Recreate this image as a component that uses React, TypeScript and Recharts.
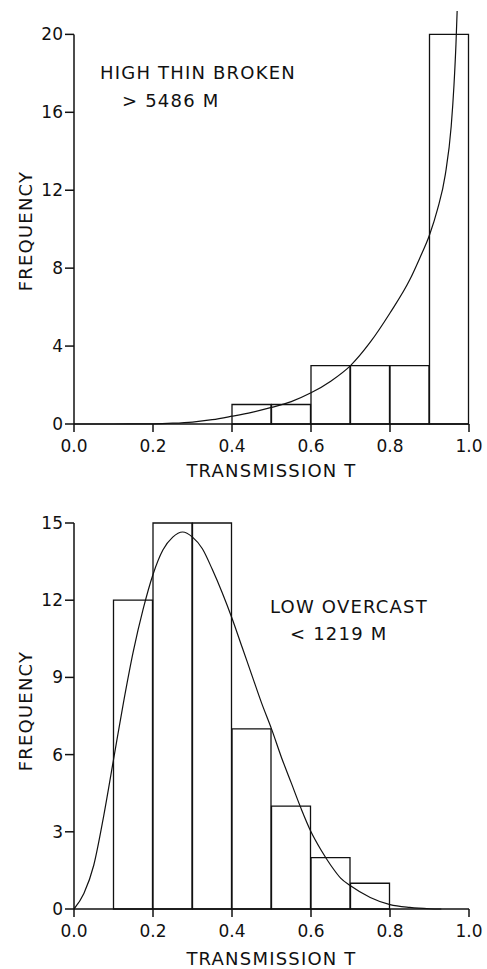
import React from "react";
import { Bar, ComposedChart, Line, ReferenceLine, XAxis, YAxis } from "recharts";

// histogram bins (lower edges) and observed counts
const binStarts = [0.0, 0.1, 0.2, 0.3, 0.4, 0.5, 0.6, 0.7, 0.8, 0.9];
const highThinCounts = [0, 0, 0, 0, 1, 1, 3, 3, 3, 20];
const lowOvercastCounts = [0, 12, 15, 15, 7, 4, 2, 1, 0, 0];

// fitted curves
const highThinCurveT = [0.0, 0.1, 0.2, 0.25, 0.3, 0.35, 0.4, 0.45, 0.5, 0.55, 0.6, 0.65, 0.7, 0.75, 0.8, 0.85, 0.875, 0.9, 0.92, 0.94, 0.955, 0.962, 0.967, 0.97];
const highThinCurveF = [0, 0, 0.01, 0.04, 0.1, 0.22, 0.4, 0.6, 0.85, 1.15, 1.6, 2.2, 3.0, 4.2, 5.7, 7.4, 8.5, 9.7, 11.0, 12.8, 15.3, 17.4, 19.5, 21.2];
const lowOvercastCurveT = [0.0, 0.025, 0.05, 0.075, 0.1, 0.125, 0.15, 0.175, 0.2, 0.225, 0.25, 0.275, 0.3, 0.325, 0.35, 0.375, 0.4, 0.425, 0.45, 0.475, 0.5, 0.525, 0.55, 0.575, 0.6, 0.625, 0.65, 0.675, 0.7, 0.75, 0.8, 0.85, 0.9, 0.93];
const lowOvercastCurveF = [0, 0.6, 1.7, 3.6, 5.8, 8.0, 10.0, 11.65, 13.0, 13.95, 14.45, 14.65, 14.45, 14.0, 13.2, 12.3, 11.3, 10.2, 9.1, 8.0, 7.0, 5.9, 4.9, 3.9, 3.0, 2.3, 1.7, 1.2, 0.9, 0.45, 0.17, 0.06, 0.01, 0];

const xTicks = [0, 0.2, 0.4, 0.6, 0.8, 1.0];
const highThinTicks = [0, 4, 8, 12, 16, 20];
const lowOvercastTicks = [0, 3, 6, 9, 12, 15];

const W = 487;
const LEFT = 74;
const RIGHT = 18;
const PLOT_W = W - LEFT - RIGHT;
const FONT = "DejaVu Sans";
const INK = "#111";

const bins = (counts: number[]) =>
  binStarts.map((b, i) => ({ t: +(b + 0.05).toFixed(2), count: counts[i] }));
const curve = (ts: number[], fs: number[]) => ts.map((t, i) => ({ t, f: fs[i] }));

const tickStyle = { fontSize: 17, fill: INK, fontFamily: FONT };
const textStyle = { fontSize: 18, fill: INK, fontFamily: FONT, letterSpacing: 1.2 };

type PanelProps = {
  height: number;
  top: number;
  xAxisHeight: number;
  counts: number[];
  curveT: number[];
  curveF: number[];
  yTicks: number[];
  yDomain: any;
  yTop: number;
  notes: { text: string; x: number; y: number }[];
  titleY: number;
  freqY: number;
};

function Panel(p: PanelProps) {
  return (
    <ComposedChart
      width={W}
      height={p.height}
      data={bins(p.counts)}
      barCategoryGap={0}
      margin={{ top: p.top, right: RIGHT, bottom: 0, left: 0 }}
    >
      <XAxis
        dataKey="t"
        type="number"
        domain={[0, 1]}
        ticks={xTicks}
        tickFormatter={(v: number) => v.toFixed(1)}
        height={p.xAxisHeight}
        tick={tickStyle}
        tickSize={8}
        tickMargin={8}
        stroke={INK}
        strokeWidth={1.5}
      />
      {/* same scale as the visible axis, only carries the bins so bar width = one bin */}
      <XAxis
        xAxisId="bins"
        dataKey="t"
        type="number"
        domain={[0, 1]}
        height={0}
        hide
      />
      <YAxis
        type="number"
        domain={p.yDomain}
        ticks={p.yTicks}
        width={LEFT}
        tick={tickStyle}
        tickSize={9}
        tickMargin={2}
        axisLine={false}
        stroke={INK}
        strokeWidth={1.5}
      />
      <ReferenceLine
        segment={[
          { x: 0, y: 0 },
          { x: 0, y: p.yTop },
        ]}
        stroke={INK}
        strokeWidth={1.5}
      />
      <Bar
        xAxisId="bins"
        dataKey="count"
        fill="none"
        stroke={INK}
        strokeWidth={1.3}
        isAnimationActive={false}
      />
      <Line
        data={curve(p.curveT, p.curveF)}
        dataKey="f"
        type="monotone"
        stroke={INK}
        strokeWidth={1.2}
        dot={false}
        isAnimationActive={false}
      />
      {p.notes.map((n) => (
        <text key={n.text} x={n.x} y={n.y} style={textStyle}>
          {n.text}
        </text>
      ))}
      <text x={LEFT + PLOT_W / 2} y={p.titleY} textAnchor="middle" style={textStyle}>
        TRANSMISSION T
      </text>
      <text
        x={25}
        y={p.freqY}
        textAnchor="middle"
        dominantBaseline="central"
        transform={`rotate(-90 25 ${p.freqY})`}
        style={textStyle}
      >
        FREQUENCY
      </text>
    </ComposedChart>
  );
}

export default function App() {
  return (
    <div style={{ position: "absolute", left: 0, top: 0, width: W, background: "#fff" }}>
      <Panel
        height={480}
        top={11}
        xAxisHeight={56}
        counts={highThinCounts}
        curveT={highThinCurveT}
        curveF={highThinCurveF}
        yTicks={highThinTicks}
        yDomain={[0, "dataMax"]}
        yTop={20}
        notes={[
          { text: "HIGH THIN BROKEN", x: 100, y: 79 },
          { text: "> 5486 M", x: 122, y: 107 },
        ]}
        titleY={477}
        freqY={231}
      />
      <Panel
        height={489}
        top={43}
        xAxisHeight={60}
        counts={lowOvercastCounts}
        curveT={lowOvercastCurveT}
        curveF={lowOvercastCurveF}
        yTicks={lowOvercastTicks}
        yDomain={[0, 15]}
        yTop={15}
        notes={[
          { text: "LOW OVERCAST", x: 270, y: 133 },
          { text: "< 1219 M", x: 290, y: 160 },
        ]}
        titleY={485}
        freqY={231}
      />
    </div>
  );
}
